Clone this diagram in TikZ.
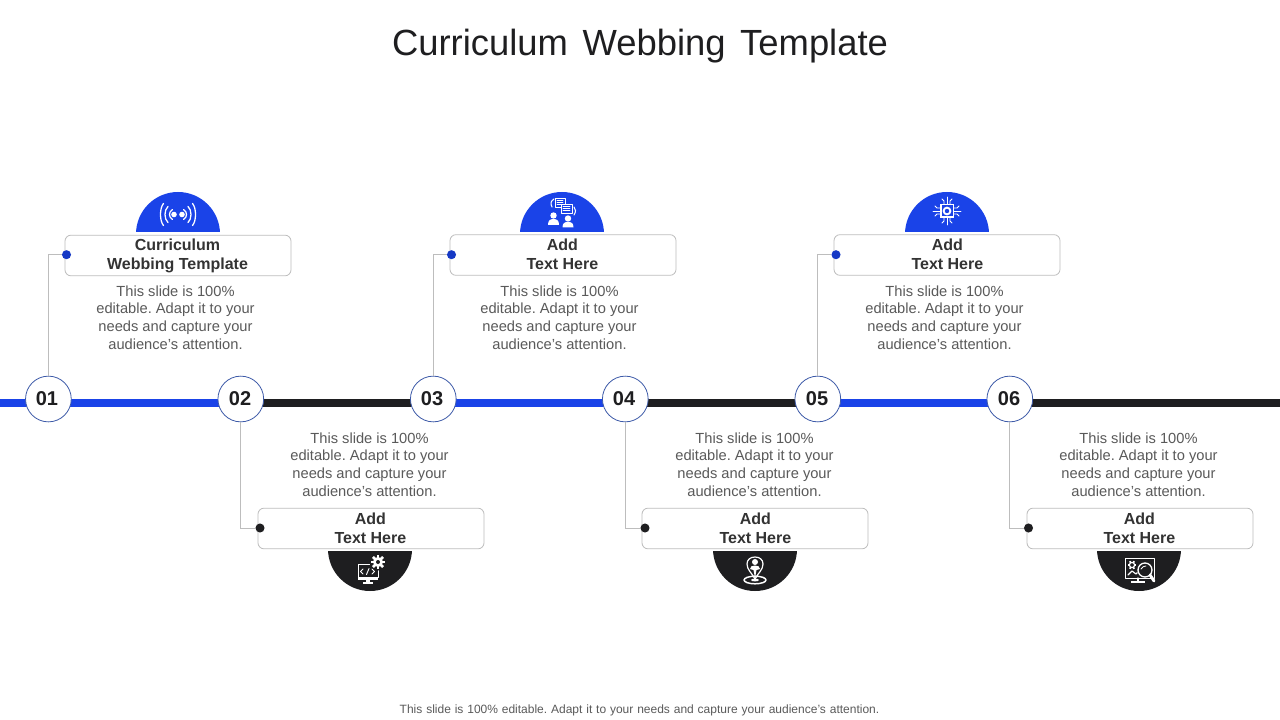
\documentclass[tikz,border=0pt]{standalone}
\usepackage{fontspec}
\setmainfont{Liberation Sans}
\definecolor{bluex}{HTML}{1A43E8}
\definecolor{darkx}{HTML}{1E1E20}
\definecolor{bodyx}{HTML}{5A5A5A}
\definecolor{headx}{HTML}{333333}
\definecolor{edgex}{HTML}{BDBDBD}
\definecolor{ringx}{HTML}{3D5AA8}
\tikzset{
  x=0.75pt,y=-0.75pt,
  numnode/.style={circle,draw=ringx,line width=0.6pt,fill=white,minimum size=34.3pt,inner sep=0pt},
  numtext/.style={font=\fontsize{15}{15}\selectfont\bfseries,text=darkx},
  boxnode/.style={draw=edgex,line width=0.6pt,rounded corners=4.5pt,fill=white,minimum width=169.5pt,minimum height=30.5pt,inner sep=0pt},
  headnode/.style={font=\fontsize{12}{14.3}\selectfont\bfseries,text=headx,align=center,inner sep=0pt},
  bodynode/.style={font=\fontsize{11}{13.2}\selectfont,text=bodyx,align=center,inner sep=0pt},
  dotnode/.style={circle,minimum size=6.8pt,inner sep=0pt},
  linkline/.style={draw=edgex,line width=0.6pt},
  railline/.style={line width=6pt},
  iconline/.style={draw=white,line width=0.75pt,line cap=round,line join=round},
  iconfill/.style={fill=white,draw=none},
}
\newcommand{\bodytext}{This slide is 100\%\\editable. Adapt it to your\\needs and capture your\\audience's attention.}
\frenchspacing
\begin{document}
\begin{tikzpicture}
\frenchspacing
\useasboundingbox (0,0) rectangle (1280,720);
\fill[white] (0,0) rectangle (1280,720);
\node[font=\fontsize{27.3}{30}\selectfont,text=darkx,inner sep=0pt] (title) at (640,46.5) {\spaceskip=11pt Curriculum Webbing Template};
\node[font=\fontsize{9}{11}\selectfont,text=bodyx,inner sep=0pt] (foot) at (639.5,710) {\spaceskip=2.9pt This slide is 100\% editable. Adapt it to your needs and capture your audience's attention.};

% rail
\draw[railline,bluex] (0,403) -- (240,403);
\draw[railline,darkx] (240,403) -- (432,403);
\draw[railline,bluex] (432,403) -- (624,403);
\draw[railline,darkx] (624,403) -- (817,403);
\draw[railline,bluex] (817,403) -- (1009,403);
\draw[railline,darkx] (1009,403) -- (1280,403);

% half discs
\foreach \cx/\cy/\ya/\yb/\col in {178/234/190/232/bluex,562/234/190/232/bluex,947/234/190/232/bluex,370/549/551/593/darkx,755/549/551/593/darkx,1139/549/551/593/darkx}{
  \begin{scope}
    \clip (\cx-50,\ya) rectangle (\cx+50,\yb);
    \fill[\col] (\cx,\cy) circle[radius=42];
  \end{scope}
}

% boxes
\node[boxnode] (b1) at (178,255.5) {};
\node[boxnode] (b3) at (563,255) {};
\node[boxnode] (b5) at (947,255) {};
\node[boxnode] (b2) at (371,528.5) {};
\node[boxnode] (b4) at (755,528.5) {};
\node[boxnode] (b6) at (1140,528.5) {};

% numbered circles
\node[numnode] (c1) at (48.4,399) {};
\node[numnode] (c2) at (240.8,399) {};
\node[numnode] (c3) at (433.3,399) {};
\node[numnode] (c4) at (625.3,399) {};
\node[numnode] (c5) at (817.8,399) {};
\node[numnode] (c6) at (1009.8,399) {};
\node[numtext] at (47,398.5) {01};
\node[numtext] at (240,398.5) {02};
\node[numtext] at (432,398.5) {03};
\node[numtext] at (624,398.5) {04};
\node[numtext] at (817,398.5) {05};
\node[numtext] at (1009,398.5) {06};

% dots and connectors
\node[dotnode,fill=bluex!85!black] (d1) at (66.5,254.7) {};
\node[dotnode,fill=bluex!85!black] (d3) at (451.5,254.7) {};
\node[dotnode,fill=bluex!85!black] (d5) at (836,254.7) {};
\node[dotnode,fill=darkx] (d2) at (260,528) {};
\node[dotnode,fill=darkx] (d4) at (645,528) {};
\node[dotnode,fill=darkx] (d6) at (1028.5,528) {};
\draw[linkline] (c1.north) |- (d1.west);
\draw[linkline] (c3.north) |- (d3.west);
\draw[linkline] (c5.north) |- (d5.west);
\draw[linkline] (c2.south) |- (d2.west);
\draw[linkline] (c4.south) |- (d4.west);
\draw[linkline] (c6.south) |- (d6.west);

% headers
\node[headnode] (h1) at (177.5,256) {Curriculum\\Webbing Template};
\node[headnode] (h3) at (562.4,254) {Add\\Text Here};
\node[headnode] (h5) at (947.4,254) {Add\\Text Here};
\node[headnode] (h2) at (370.4,528) {Add\\Text Here};
\node[headnode] (h4) at (755.4,528) {Add\\Text Here};
\node[headnode] (h6) at (1139.4,528) {Add\\Text Here};

% body texts
\node[bodynode] (t1) at (175.5,317.5) {\bodytext};
\node[bodynode] (t3) at (559.5,317.5) {\bodytext};
\node[bodynode] (t5) at (944.5,317.5) {\bodytext};
\node[bodynode] (t2) at (369.5,464.5) {\bodytext};
\node[bodynode] (t4) at (754.5,464.5) {\bodytext};
\node[bodynode] (t6) at (1138.5,464.5) {\bodytext};

% icon 1: broadcast
\begin{scope}[shift={(178,214.5)}]
  \fill[white] (-4,0) circle[radius=2.8];
  \fill[white] (4,0) circle[radius=2.8];
  \foreach \r/\h in {9.5/5,14/8,18.5/11}{
    \draw[iconline,line width=0.95pt] (\r-4,-\h) .. controls (\r,-\h*0.6) and (\r,\h*0.6) .. (\r-4,\h);
    \draw[iconline,line width=0.95pt] (-\r+4,-\h) .. controls (-\r,-\h*0.6) and (-\r,\h*0.6) .. (-\r+4,\h);
  }
\end{scope}

% icon 3: people and documents
\begin{scope}[shift={(562,212)}]
  \draw[iconline,fill=bluex,line width=0.7pt] (-7,-14) rectangle (3,-5);
  \foreach \yy in {-12,-10,-8} \draw[iconline,line width=0.6pt] (-5,\yy) -- (1,\yy);
  \draw[iconline,fill=bluex,line width=0.7pt] (-1,-8) rectangle (10,1);
  \foreach \yy in {-6,-4,-2} \draw[iconline,line width=0.6pt] (1,\yy) -- (8,\yy);
  \draw[iconline,line width=0.8pt] (-10,-5) .. controls (-12,-9) and (-11,-11) .. (-8,-13);
  \draw[iconline,line width=0.8pt] (12,-5) .. controls (14,-3) and (14,0) .. (12,3);
  \fill[white] (-8.5,3.5) circle[radius=3.2];
  \fill[white] (-14,13) .. controls (-14,8.5) and (-12,7) .. (-8.5,7) .. controls (-5,7) and (-3,8.5) .. (-3,13) -- cycle;
  \fill[white] (6,6.5) circle[radius=3.2];
  \fill[white] (0.5,15.5) .. controls (0.5,11) and (2.5,10) .. (6,10) .. controls (9.5,10) and (11.5,11) .. (11.5,15.5) -- cycle;
\end{scope}

% icon 5: chip
\begin{scope}[shift={(947,211)}]
  \fill[white] (-7,-7) rectangle (7,7);
  \fill[bluex] (-5.5,-5.5) rectangle (5.5,5.5);
  \fill[white] (0,0) circle[radius=4.4];
  \fill[bluex] (0,0) circle[radius=2.2];
  \begin{scope}[iconline,line width=0.65pt]
    \draw (-3,-7) -- (-3,-10) -- (-5,-12);
    \draw (0,-7) -- (0,-14);
    \draw (3,-7) -- (3,-10) -- (5,-12);
    \draw (-3,7) -- (-3,10) -- (-5,12);
    \draw (0,7) -- (0,14);
    \draw (3,7) -- (3,10) -- (5,12);
    \draw (-7,-3) -- (-10,-3) -- (-12,-5);
    \draw (-7,0) -- (-14,0);
    \draw (-7,3) -- (-10,3) -- (-12,5);
    \draw (7,-3) -- (10,-3) -- (12,-5);
    \draw (7,0) -- (14,0);
    \draw (7,3) -- (10,3) -- (12,5);
  \end{scope}
\end{scope}

% icon 2: monitor with code and gear
\begin{scope}[shift={(369,570)}]
  \draw[iconline,line width=0.7pt] (-11,-6) rectangle (9,7);
  \fill[white] (-11,7) rectangle (9,9.5);
  \fill[white] (-3,9.5) rectangle (1,12);
  \fill[white] (-6,12) rectangle (4,13.5);
  \draw[iconline,line width=0.7pt] (-6,-1) -- (-8.5,1.5) -- (-6,4);
  \draw[iconline,line width=0.7pt] (-2.5,4.5) -- (0,-1.5);
  \draw[iconline,line width=0.7pt] (3,-1) -- (5.5,1.5) -- (3,4);
  \fill[darkx] (9,-8) circle[radius=8.5];
  \foreach \a in {0,45,...,315} \draw[white,line width=1.9pt] (9,-8)++(\a:3) -- ++(\a:4.2);
  \fill[white] (9,-8) circle[radius=5];
  \fill[darkx] (9,-8) circle[radius=2];
\end{scope}

% icon 4: location pin with person
\begin{scope}[shift={(755,570)}]
  \draw[iconline,line width=0.9pt] (0,9) .. controls (-3,3) and (-8,0) .. (-8,-6) .. controls (-8,-10.5) and (-4.5,-13) .. (0,-13) .. controls (4.5,-13) and (8,-10.5) .. (8,-6) .. controls (8,0) and (3,3) .. (0,9);
  \fill[white] (0,-8) circle[radius=3];
  \fill[white] (-5,-1) .. controls (-5,-3.5) and (-3,-4.5) .. (0,-4.5) .. controls (3,-4.5) and (5,-3.5) .. (5,-1) -- (1.5,0) -- (0,8) -- (-1.5,0) -- cycle;
  \draw[iconline,line width=1.1pt] (0,10) ellipse[x radius=11,y radius=3.8];
  \fill[white] (0,10) ellipse[x radius=4,y radius=1.4];
\end{scope}

% icon 6: monitor with gear and magnifier
\begin{scope}[shift={(1139,570)}]
  \draw[iconline,line width=0.75pt] (-14,-12) -- (-14,8) -- (15,8) -- (15,-12) -- cycle;
  \draw[iconline,line width=0.9pt] (-1,8) -- (-1,11);
  \fill[white] (-8,11) rectangle (6,12.5);
  \draw[iconline,line width=0.9pt] (-7,-5) circle[radius=2.6];
  \foreach \a in {0,60,...,300} \draw[white,line width=1.3pt] (-7,-5)++(\a:2.6) -- ++(\a:1.8);
  \draw[iconline,line width=0.85pt] (-11,5) -- (-7,1) -- (-3,4) -- (0,1);
  \fill[darkx] (6,0) circle[radius=8];
  \draw[iconline,line width=1pt] (6,0) circle[radius=7];
  \draw[iconline,line width=0.6pt] (2,-1) .. controls (3,-3) and (5,-4) .. (7,-4);
  \draw[white,line width=2.2pt,line cap=round] (11,5) -- (15,11);
\end{scope}
\end{tikzpicture}
\end{document}
